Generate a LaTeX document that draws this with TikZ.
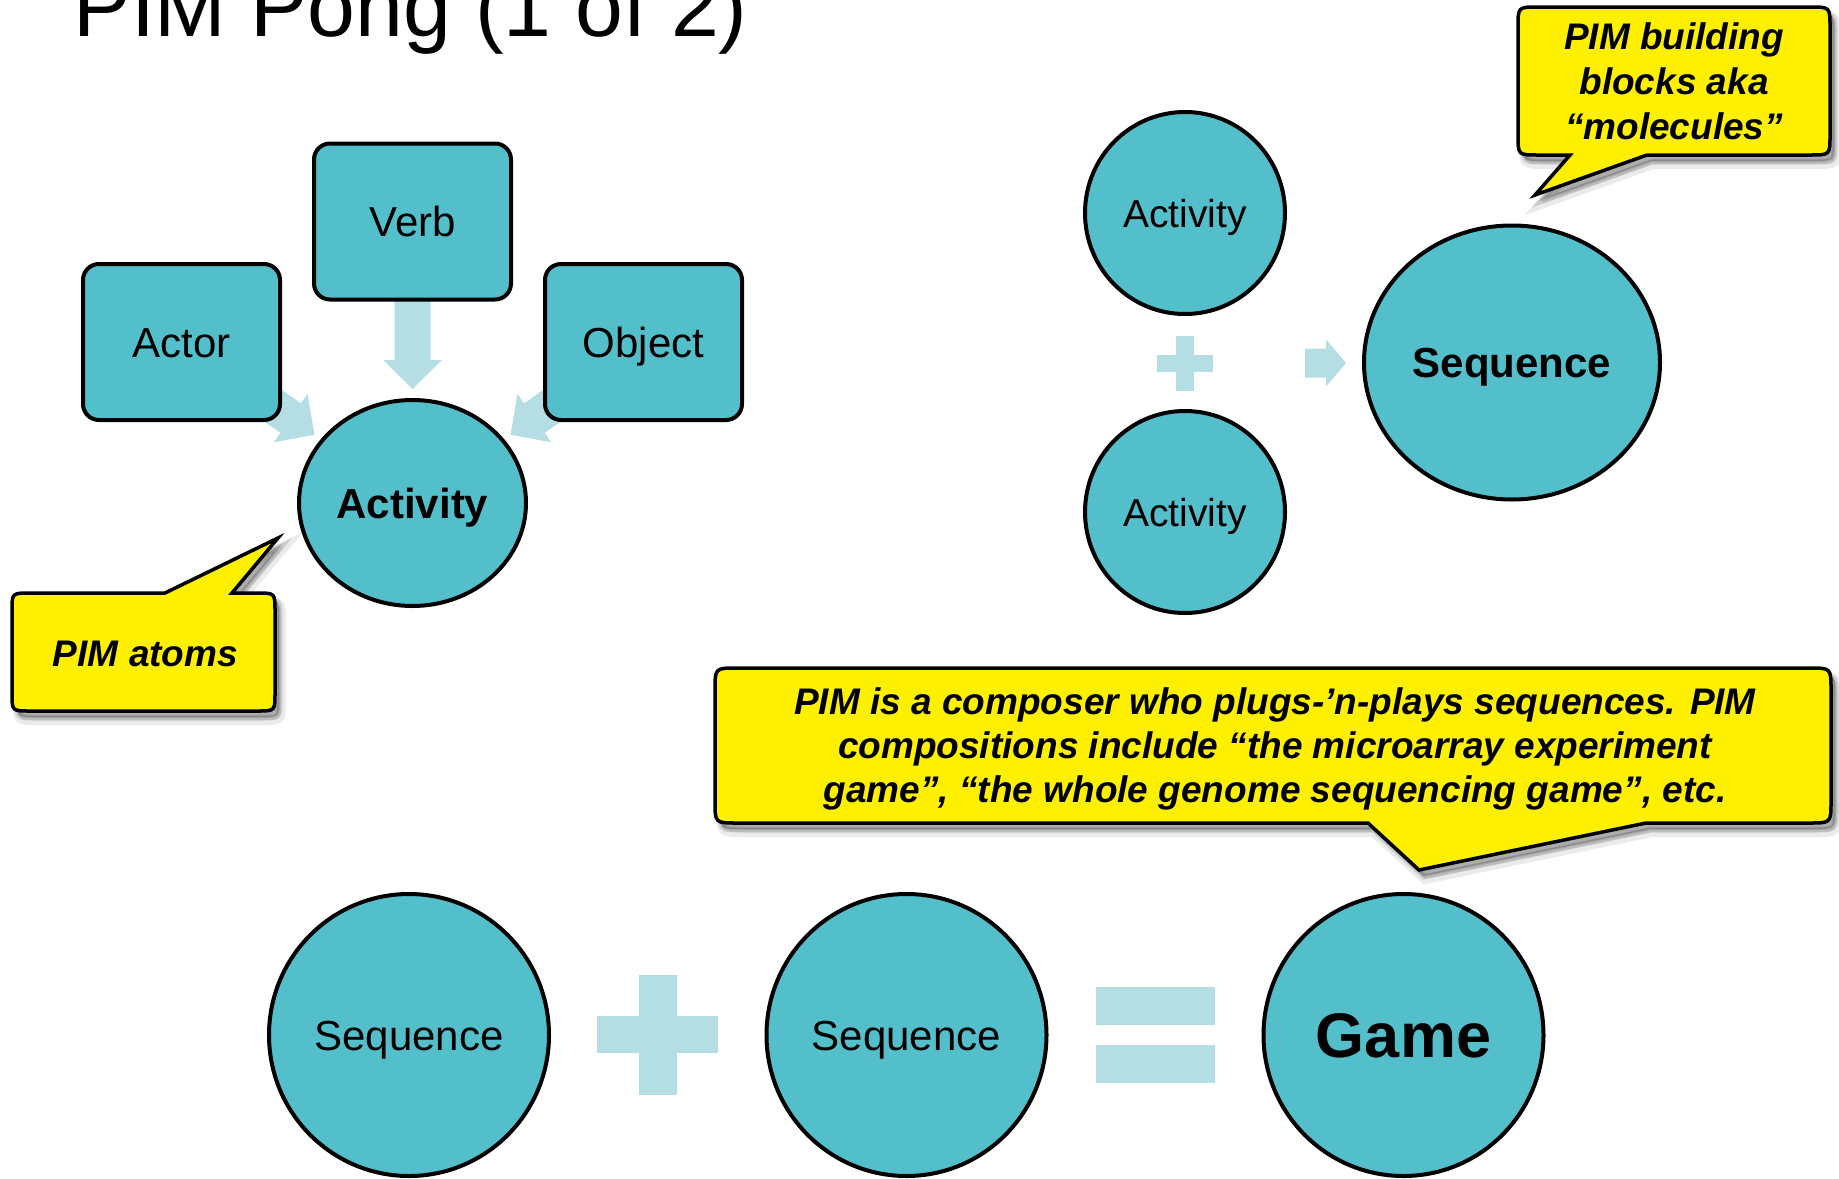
\documentclass[tikz,border=0pt]{standalone}
\usepackage{fontspec}
\setmainfont{Liberation Sans}
\usetikzlibrary{shapes.geometric,calc}

\definecolor{atomfill}{RGB}{82,191,202}
\definecolor{arrowblue}{RGB}{180,222,228}
\definecolor{noteyellow}{RGB}{255,240,0}

% block arrow: #1 start, #2 tip, #3 half shaft width, #4 half head width, #5 head length
\newcommand{\blockarrow}[5]{%
  \coordinate (ba-h) at ($(#2)!#5!(#1)$);
  \fill[arrowfill] ($(#1)!#3!90:(#2)$) -- ($(ba-h)!#3!90:(#2)$) -- ($(ba-h)!#4!90:(#2)$)
    -- (#2) -- ($(ba-h)!#4!-90:(#2)$) -- ($(ba-h)!#3!-90:(#2)$) -- ($(#1)!#3!-90:(#2)$) -- cycle;
}

\tikzset{
  atom/.style={ellipse, draw=black, line width=4pt, fill=atomfill, inner sep=0pt, text depth=0pt},
  part/.style={rectangle, rounded corners=16pt, draw=black, line width=4pt, fill=atomfill,
    minimum width=197pt, minimum height=156pt, inner sep=0pt,
    text height=30pt, text depth=0pt, font=\fontsize{42}{50}\selectfont},
  arrowfill/.style={fill=arrowblue},
  plusbar/.style={fill=arrowblue},
  softshadow/.style={preaction={fill=black, opacity=0.08, draw=black, line width=10pt,
      transform canvas={xshift=6pt, yshift=-9pt}},
    preaction={fill=black, opacity=0.12, draw=black, line width=5pt,
      transform canvas={xshift=5pt, yshift=-7pt}},
    preaction={fill=black, opacity=0.16,
      transform canvas={xshift=4pt, yshift=-6pt}}},
  note/.style={softshadow, draw=black, line width=3.5pt, fill=noteyellow},
  notetext/.style={font=\fontsize{37}{45}\selectfont\bfseries\itshape, align=center,
    inner sep=0pt, anchor=base},
}

\begin{document}
\begin{tikzpicture}[x=1pt,y=-1pt]
\fill[white] (0,0) rectangle (1839,1178);
\path[use as bounding box] (0,0) rectangle (1839,1178);

% title
\node[anchor=base west, inner sep=0pt, font=\fontsize{86}{100}\selectfont] (title) at (73.5,36) {PIM Pong (1 of 2)};

% centres of the parts of an activity
\coordinate (verbC) at (412.5,221.5);
\coordinate (actorC) at (181.5,342);
\coordinate (objectC) at (643.5,342);
\coordinate (actC) at (412.5,503);

% arrows run under the boxes
\coordinate (tipV) at ($(actC)!114pt!(verbC)$);
\coordinate (tipA) at ($(actC)!119.5pt!(actorC)$);
\coordinate (tipO) at ($(actC)!119.5pt!(objectC)$);
\blockarrow{verbC}{tipV}{18pt}{29.5pt}{29pt}
\blockarrow{actorC}{tipA}{18pt}{29.5pt}{29pt}
\blockarrow{objectC}{tipO}{18pt}{29.5pt}{29pt}

\node[part] (verb) at (verbC) {Verb};
\node[part] (actor) at (actorC) {Actor};
\node[part] (object) at (objectC) {Object};
\node[atom, minimum width=227pt, minimum height=206pt, text height=30pt,
  font=\fontsize{42}{50}\selectfont\bfseries] (act) at (actC) {Activity};

% activities make a sequence
\node[atom, minimum width=200pt, minimum height=202pt, text height=28pt,
  font=\fontsize{39}{47}\selectfont] (actA) at (1185,213) {Activity};
\node[atom, minimum width=200pt, minimum height=202pt, text height=28pt,
  font=\fontsize{39}{47}\selectfont] (actB) at (1185,512) {Activity};
\node[atom, minimum width=296pt, minimum height=274pt, text height=30pt,
  font=\fontsize{42}{50}\selectfont\bfseries] (seq) at (1512,362.5) {Sequence};
\fill[plusbar] (1157,354.5) rectangle (1213,372);
\fill[plusbar] (1176,336) rectangle (1194,391);
\coordinate (seqIn) at (1305,363);
\coordinate (seqTip) at (1346,363);
\blockarrow{seqIn}{seqTip}{14.5pt}{23.5pt}{20pt}

% sequences make a game
\node[atom, minimum width=280pt, minimum height=282pt, text height=30pt,
  font=\fontsize{42}{50}\selectfont] (seqL) at (409,1035) {Sequence};
\node[atom, minimum width=280pt, minimum height=282pt, text height=30pt,
  font=\fontsize{42}{50}\selectfont] (seqR) at (906.5,1035) {Sequence};
\node[atom, minimum width=280pt, minimum height=282pt, text height=45pt,
  font=\fontsize{63}{75}\selectfont\bfseries] (game) at (1403.5,1035) {Game};
\fill[plusbar] (597,1016) rectangle (718,1053);
\fill[plusbar] (639,975) rectangle (677,1095);
\fill[plusbar] (1096,987) rectangle (1215,1025);
\fill[plusbar] (1096,1045) rectangle (1215,1083);

% callouts
\draw[note] (30,593) -- (165,593) -- (278,538) -- (232,593) -- (257,593)
  .. controls (275,593) .. (275,611) -- (275,693) .. controls (275,711) .. (257,711)
  -- (30,711) .. controls (12,711) .. (12,693) -- (12,611) .. controls (12,593) .. (30,593) -- cycle;
\node[notetext] (atoms) at (145.5,666) {PIM atoms};

\draw[note] (1538,7) -- (1810,7) .. controls (1830,7) .. (1830,27) -- (1830,135)
  .. controls (1830,155) .. (1810,155) -- (1647,155) -- (1535,195) -- (1570,155)
  -- (1538,155) .. controls (1518,155) .. (1518,135) -- (1518,27) .. controls (1518,7) .. (1538,7) -- cycle;
\node[notetext] (molecules) at (1674,139) {PIM building\\blocks aka\\“molecules”};

\draw[note] (737,668) -- (1809,668) .. controls (1831,668) .. (1831,690) -- (1831,801)
  .. controls (1831,823) .. (1809,823) -- (1646,823) -- (1419,870) -- (1368,823)
  -- (737,823) .. controls (715,823) .. (715,801) -- (715,690) .. controls (715,668) .. (737,668) -- cycle;
\node[notetext, font=\fontsize{37}{44}\selectfont\bfseries\itshape] (composer) at (1275,802)
  {PIM is a composer who plugs-’n-plays sequences. PIM\\
   compositions include “the microarray experiment\\
   game”, “the whole genome sequencing game”, etc.};
\end{tikzpicture}
\end{document}
